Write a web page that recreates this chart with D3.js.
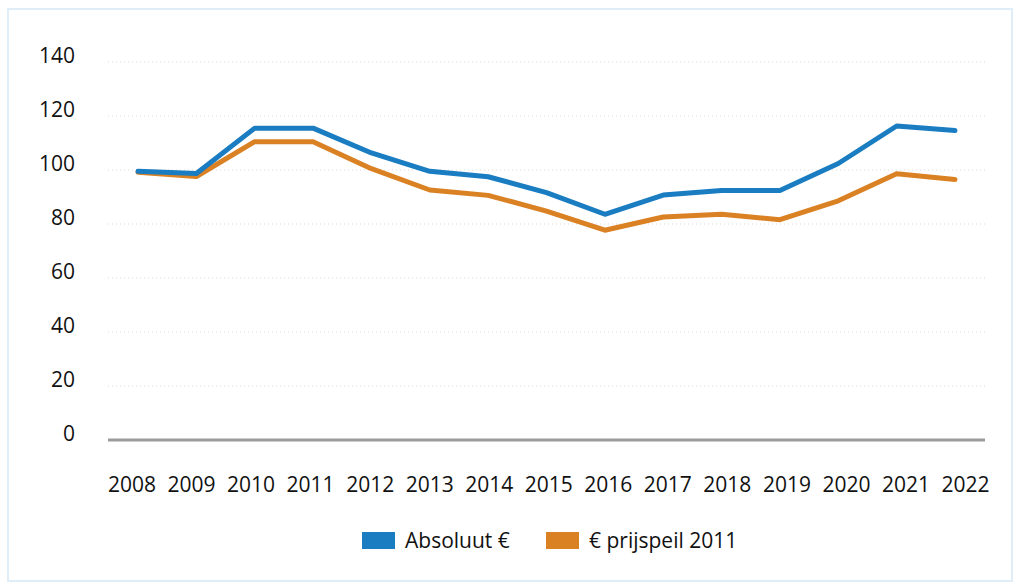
<!DOCTYPE html>
<html>
<head>
<meta charset="utf-8">
<script src="https://cdn.jsdelivr.net/npm/d3@7"></script>
<style>
	body { margin: 0; background: #fff; }
	svg text { font-family: "Open Sans", sans-serif; fill: #111; }
</style>
</head>
<body>
<svg width="1014" height="583"></svg>
<script>
	// data
	var years = ["2008", "2009", "2010", "2011", "2012", "2013", "2014", "2015",
		"2016", "2017", "2018", "2019", "2020", "2021", "2022"];
	var absoluut = [99.5, 98.7, 115.5, 115.5, 106.3, 99.5, 97.5, 91.6, 83.6, 90.7, 92.4, 92.4, 102.4, 116.3, 114.6];
	var prijspeil = [99.2, 97.6, 110.5, 110.5, 100.5, 92.6, 90.6, 84.8, 77.7, 82.6, 83.6, 81.6, 88.6, 98.6, 96.5];
	var yTicks = [0, 20, 40, 60, 80, 100, 120, 140];
	var seriesNames = ["Absoluut €", "€ prijspeil 2011"];
	var colors = ["#1a7cc1", "#da8124"];

	var svg = d3.select("svg");

	// frame
	svg.append("rect")
		.attr("x", 8).attr("y", 9)
		.attr("width", 1004).attr("height", 572)
		.attr("fill", "none")
		.attr("stroke", "#deedf8")
		.attr("stroke-width", 2);

	var x = d3.scalePoint().domain(years).range([138, 955]);
	var xLab = d3.scalePoint().domain(years).range([131.5, 965]);
	var y = d3.scaleLinear().domain([0, 140]).range([440, 62]);

	// gridlines
	svg.append("g")
		.selectAll("line")
		.data(yTicks.filter(function(d) { return d > 0; }))
		.enter().append("line")
		.attr("x1", 108).attr("x2", 985)
		.attr("y1", function(d) { return y(d); })
		.attr("y2", function(d) { return y(d); })
		.attr("stroke", "#d9d9d9")
		.attr("stroke-width", 1)
		.attr("stroke-dasharray", "1,3");

	// y labels
	svg.append("g")
		.selectAll("text")
		.data(yTicks)
		.enter().append("text")
		.attr("x", 75)
		.attr("y", function(d) { return y(d) + 1; })
		.attr("text-anchor", "end")
		.style("font-size", "21px")
		.text(function(d) { return d; });

	// zero line
	svg.append("line")
		.attr("x1", 108).attr("x2", 985)
		.attr("y1", y(0)).attr("y2", y(0))
		.attr("stroke", "#9b9b9b")
		.attr("stroke-width", 3);

	// x labels
	var xAxis = svg.append("g")
		.attr("transform", "translate(0,492)")
		.call(d3.axisBottom(xLab).tickSize(0).tickPadding(0));
	xAxis.select(".domain").remove();
	xAxis.selectAll("text")
		.attr("dy", 0)
		.attr("y", 0)
		.style("font-size", "21px")
		.style("font-family", "'Open Sans', sans-serif")
		.attr("fill", "#111");

	var line = d3.line()
		.x(function(d, i) { return x(years[i]); })
		.y(function(d) { return y(d); });

	[prijspeil, absoluut].forEach(function(s, k) {
		svg.append("path")
			.datum(s)
			.attr("d", line)
			.attr("fill", "none")
			.attr("stroke", colors[1 - k])
			.attr("stroke-width", 5)
			.attr("stroke-linejoin", "round")
			.attr("stroke-linecap", "round");
	});

	// legend
	var legendX = [362, 546];
	var leg = svg.append("g")
		.selectAll("g")
		.data(seriesNames)
		.enter().append("g")
		.attr("transform", function(d, i) { return "translate(" + legendX[i] + ",532)"; });
	leg.append("rect")
		.attr("width", 33).attr("height", 17)
		.attr("fill", function(d, i) { return colors[i]; });
	leg.append("text")
		.attr("x", 43).attr("y", 16)
		.style("font-size", "21px")
		.text(function(d) { return d; });
</script>
</body>
</html>
